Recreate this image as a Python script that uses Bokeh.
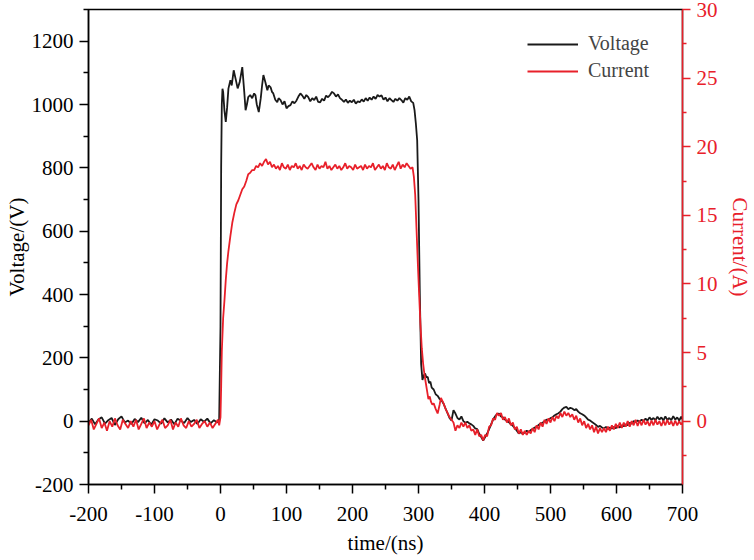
import numpy as np
from bokeh.plotting import figure
from bokeh.models import Range1d, LinearAxis, FixedTicker, Legend, LegendItem, PrintfTickFormatter
from bokeh.embed import file_html
from bokeh.resources import INLINE

# ---------------- data ----------------
x_ticks = [-200, -100, 0, 100, 200, 300, 400, 500, 600, 700]
v_ticks = [-200, 0, 200, 400, 600, 800, 1000, 1200]
i_ticks = [0, 5, 10, 15, 20, 25, 30]

# Voltage (V)
volt_pre_t = list(range(-200, 0, 5)) + [-2]
volt_pre_v = [-5, 8, -10, 5, 12, -8, 3, 10, -12, 6, 15, -4, 2, -9, 7, -3, 11, -7, 4, -11,
              6, 2, -8, 9, -4, 5, -10, 8, 1, -6, 10, -3, 4, -9, 6, -2, 8, -7, 3, -4, 5]
volt_edge_t = [0, 1, 2, 3, 4, 6, 8, 10, 12, 15, 17, 20, 23, 26, 29, 33, 36, 38, 40, 42,
               45, 48, 51, 53, 55, 58, 61, 63, 65, 68, 71, 73, 76, 78, 80, 83, 86, 88]
volt_edge_v = [300, 800, 1000, 1050, 1040, 980, 945, 990, 1050, 1077, 1060, 1108, 1080, 1051, 1070,
               1118, 1040, 982, 1000, 1023, 1030, 1020, 1035, 1029, 1000, 976, 1020, 1060, 1093, 1070,
               1045, 1060, 1054, 1040, 1035, 1015, 1007, 1020]
volt_flat_t = list(range(91, 292, 3))
volt_flat_v = [1014, 1000, 1010, 988, 995, 998, 1010, 1004, 1012, 1025,
               1035, 1028, 1018, 1030, 1023, 1010, 1020, 1014, 1025, 1008,
               1007, 1018, 1012, 1028, 1023, 1030, 1040, 1035, 1025, 1032,
               1020, 1015, 1008, 1016, 1005, 1012, 1007, 1015, 1003, 1010,
               1007, 1016, 1009, 1020, 1012, 1022, 1015, 1025, 1018, 1030,
               1025, 1029, 1015, 1022, 1010, 1020, 1014, 1008, 1018, 1012,
               1020, 1014, 1006, 1020, 1015, 1025, 1010]
volt_fall_t = [292, 294, 296, 298, 300, 302, 304, 306, 308, 310, 312, 314, 316, 318, 320,
               323, 326, 329, 332, 335, 338, 341, 344, 347, 350]
volt_fall_v = [1005, 982, 940, 887, 700, 400, 180, 130, 145, 150, 138, 140, 120, 125, 106,
               100, 85, 80, 70, 65, 55, 40, 25, 10, 2]
volt_tail_t = list(range(353, 700, 3)) + [700]
volt_tail_v = [35, 24, 10, 5, 15, 0, -5, -2, -7, -10,
               -15, -23, -25, -40, -50, -61, -50, -39, -25, -10,
               5, 15, 22, 24, 15, 12, 5, 0, -3, -10,
               -15, -22, -30, -39, -35, -40, -36, -30, -35, -28,
               -25, -20, -18, -12, -7, -5, 0, 5, 3, 10,
               12, 18, 22, 25, 30, 38, 43, 45, 38, 42,
               40, 35, 38, 30, 25, 22, 18, 12, 5, 2,
               -3, -7, -12, -18, -15, -20, -23, -18, -25, -20,
               -23, -18, -22, -15, -20, -13, -16, -10, -13, -5,
               -8, 0, -3, 2, -2, 5, 0, 8, 2, 12,
               4, 10, 3, 14, 5, 12, 2, 15, 4, 10,
               3, 16, 5, 12, 2, 14, 6]

# Current (A)
cur_pre_t = list(range(-200, 0, 4)) + [-2]
cur_pre_v = [-0.3, 0.1, -0.6, -0.2, 0.2, -0.5, -0.1, -0.7, 0.0, -0.4,
             0.2, -0.3, -0.6, 0.1, -0.2, -0.5, 0.0, -0.4, 0.1, -0.6,
             -0.2, 0.2, -0.5, -0.1, -0.4, 0.0, -0.6, -0.2, 0.1, -0.5,
             -0.3, 0.1, -0.6, -0.1, -0.4, 0.2, -0.3, -0.5, 0.0, -0.4,
             -0.2, 0.1, -0.5, -0.2, 0.0, -0.4, -0.1, -0.5, -0.2, 0.1, -0.3]
cur_rise_t = [0, 1, 2, 4, 6, 8, 10, 12, 15, 18, 21, 24, 27, 30, 33, 36, 39, 42, 45, 48,
              51, 54, 57, 60, 63, 66, 69, 72, 75, 78]
cur_rise_v = [0.3, 2.5, 5.1, 7.5, 8.8, 10.3, 11.5, 12.4, 13.5, 14.5,
              15.2, 15.8, 16.1, 16.5, 16.9, 17.1, 17.5, 18.0, 18.1, 18.3,
              18.3, 18.6, 18.5, 18.8, 18.6, 18.9, 19.1, 18.7, 18.9, 18.5]
cur_flat_t = list(range(81, 292, 3))
cur_flat_v = [18.7, 18.4, 18.6, 18.3, 18.8, 18.5, 18.4, 18.7, 18.3, 18.6,
              18.5, 18.8, 18.4, 18.6, 18.3, 18.7, 18.5, 18.4, 18.6, 18.8,
              18.5, 18.3, 18.7, 18.4, 18.6, 18.5, 18.9, 18.4, 18.6, 18.3,
              18.5, 18.7, 18.4, 18.6, 18.3, 18.5, 18.8, 18.4, 18.6, 18.5,
              18.3, 18.7, 18.4, 18.5, 18.6, 18.3, 18.7, 18.4, 18.6, 18.5,
              18.8, 18.3, 18.5, 18.7, 18.4, 18.6, 18.3, 18.8, 18.5, 18.4,
              18.7, 18.3, 18.6, 18.9, 18.4, 18.7, 18.5, 18.8, 18.6, 18.4, 18.5]
cur_fall_t = [293, 295, 297, 299, 301, 303, 305, 307, 309, 311, 313, 315, 317, 319, 321,
              323, 326, 329, 332, 334, 336, 338, 341, 344, 347, 350]
cur_fall_v = [17.8, 16.5, 14.0, 11.5, 9.2, 7.0, 5.3, 4.2, 3.4, 2.8, 2.2, 1.6, 1.8, 1.4, 1.2,
              1.3, 0.9, 0.56, 1.2, 1.7, 1.5, 1.3, 0.9, 0.6, 0.3, 0.1]
cur_tail_t = list(range(353, 700, 3)) + [700]
cur_tail_v = [-0.1, -0.7, -0.3, -0.5, -0.1, -0.4, -0.1, -0.5, -0.3, -0.7,
              -0.6, -1.0, -0.6, -1.1, -1.0, -1.4, -1.0, -1.1, -0.4, -0.3,
              0.2, 0.1, 0.6, 0.4, 0.6, 0.1, 0.3, -0.1, 0.2, -0.3,
              -0.1, -0.6, -0.4, -0.9, -0.6, -1.0, -0.7, -1.0, -0.7, -0.9,
              -0.5, -0.8, -0.3, -0.6, -0.1, -0.4, 0.1, -0.2, 0.2, -0.1,
              0.3, 0.0, 0.4, 0.2, 0.6, 0.3, 0.7, 0.4, 0.6, 0.3,
              0.5, 0.1, 0.4, -0.1, 0.2, -0.3, 0.0, -0.5, -0.2, -0.6,
              -0.3, -0.8, -0.4, -0.9, -0.5, -0.8, -0.5, -0.8, -0.4, -0.7,
              -0.3, -0.6, -0.2, -0.5, -0.1, -0.5, -0.1, -0.4, 0.0, -0.4,
              0.0, -0.3, 0.1, -0.35, 0.05, -0.3, 0.1, -0.25, 0.0, -0.35,
              0.05, -0.3, 0.1, -0.25, 0.0, -0.35, 0.05, -0.3, 0.1, -0.25,
              0.0, -0.35, 0.05, -0.3, 0.0, -0.25, -0.1]

volt_t = volt_pre_t + volt_edge_t + volt_flat_t + volt_fall_t + volt_tail_t
volt_v = volt_pre_v + volt_edge_v + volt_flat_v + volt_fall_v + volt_tail_v
cur_t = cur_pre_t + cur_rise_t + cur_flat_t + cur_fall_t + cur_tail_t
cur_v = cur_pre_v + cur_rise_v + cur_flat_v + cur_fall_v + cur_tail_v

# ---------------- styling ----------------
FONT = "Liberation Serif"
RED = "#e8202a"
BLACK = "#1a1a1a"

p = figure(width=754, height=560,
           x_range=Range1d(-200, 700), y_range=Range1d(-200, 1300),
           output_backend="svg", toolbar_location=None,
           min_border_left=88, min_border_right=72,
           min_border_top=9, min_border_bottom=76)
p.extra_y_ranges = {"cur": Range1d(-4.615, 30)}
p.xgrid.visible = False
p.ygrid.visible = False
p.outline_line_color = "black"
p.outline_line_width = 1.5
p.background_fill_color = "white"
p.border_fill_color = "white"

rv = p.line(volt_t, volt_v, line_color=BLACK, line_width=1.8)
ri = p.line(cur_t, cur_v, line_color=RED, line_width=1.8, y_range_name="cur")

def style(ax, color):
    ax.formatter = PrintfTickFormatter(format="%d")
    ax.axis_line_color = color
    ax.axis_line_width = 1.5
    ax.major_tick_line_color = color
    ax.minor_tick_line_color = color
    ax.major_tick_line_width = 1.5
    ax.minor_tick_line_width = 1.5
    ax.major_tick_in = 0
    ax.major_tick_out = 9
    ax.minor_tick_in = 0
    ax.minor_tick_out = 5
    ax.major_label_text_font = FONT
    ax.major_label_text_font_size = "21px"
    ax.major_label_text_color = color
    ax.axis_label_text_font = FONT
    ax.axis_label_text_font_size = "21px"
    ax.axis_label_text_font_style = "normal"
    ax.axis_label_text_color = color

xa = p.xaxis[0]
style(xa, "black")
xa.ticker = FixedTicker(ticks=x_ticks, minor_ticks=[t + 50 for t in x_ticks[:-1]])
xa.axis_label = "time/(ns)"
xa.major_label_standoff = 13
xa.axis_label_standoff = 7

ya = p.yaxis[0]
style(ya, "black")
ya.ticker = FixedTicker(ticks=v_ticks, minor_ticks=[t + 100 for t in v_ticks])
ya.axis_label = "Voltage/(V)"
ya.major_label_standoff = 6
ya.axis_label_standoff = 0

ra = LinearAxis(y_range_name="cur")
style(ra, RED)
ra.major_tick_out = 8
ra.minor_tick_out = 4
ra.ticker = FixedTicker(ticks=i_ticks, minor_ticks=[-2.5] + [t + 2.5 for t in i_ticks[:-1]])
ra.axis_label = "Current/(A)"
ra.major_label_standoff = 6
ra.axis_label_standoff = 7
p.add_layout(ra, "right")

legend = Legend(items=[LegendItem(label="Voltage", renderers=[rv]),
                       LegendItem(label="Current", renderers=[ri])],
                location=(439, 402), border_line_color=None,
                background_fill_alpha=0, padding=0, spacing=4, margin=0,
                glyph_width=51, glyph_height=20, label_height=20, label_standoff=10,
                label_text_font=FONT, label_text_font_size="20px")
p.add_layout(legend)

open("out.html", "w").write(file_html(p, INLINE))
